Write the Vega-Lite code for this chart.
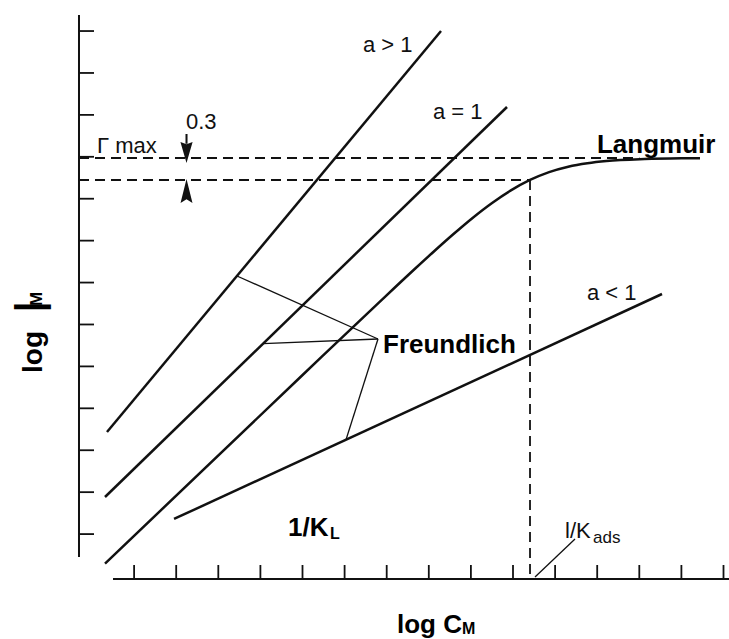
{
  "$schema": "https://vega.github.io/schema/vega-lite/v6.json",
  "width": 729,
  "height": 639,
  "autosize": {"type": "none"},
  "padding": 0,
  "background": "white",
  "config": {"view": {"stroke": null}},
  "datasets": {
    "xticks": [
      {"logC": 1}, {"logC": 2}, {"logC": 3}, {"logC": 4}, {"logC": 5},
      {"logC": 6}, {"logC": 7}, {"logC": 8}, {"logC": 9}, {"logC": 10},
      {"logC": 11}, {"logC": 12}, {"logC": 13}, {"logC": 14}, {"logC": 15}
    ],
    "yticks": [
      {"logG": 1}, {"logG": 2}, {"logG": 3}, {"logG": 4}, {"logG": 5},
      {"logG": 6}, {"logG": 7}, {"logG": 8}, {"logG": 9}, {"logG": 10},
      {"logG": 11}, {"logG": 12}, {"logG": 13}
    ],
    "segments": [
      {"name": "a>1", "kind": "thick", "x": 0.356, "y": 3.435, "x2": 8.29, "y2": 13.001},
      {"name": "a=1", "kind": "thick", "x": 0.309, "y": 1.885, "x2": 9.857, "y2": 11.188},
      {"name": "a<1", "kind": "thick", "x": 1.948, "y": 1.36, "x2": 13.539, "y2": 6.727},
      {"name": "freundlich a>1", "kind": "thin", "x": 3.444, "y": 7.157, "x2": 6.793, "y2": 5.654},
      {"name": "freundlich a=1", "kind": "thin", "x": 4.062, "y": 5.542, "x2": 6.793, "y2": 5.654},
      {"name": "freundlich a<1", "kind": "thin", "x": 6.033, "y": 3.251, "x2": 6.793, "y2": 5.654},
      {"name": "1/Kads pointer", "kind": "thin", "x": 10.523, "y": -0.024, "x2": 11.473, "y2": 0.883},
      {"name": "gamma max", "kind": "dash", "x": -0.309, "y": 9.971, "x2": 13.0, "y2": 9.971},
      {"name": "half of gamma max", "kind": "dash", "x": -0.309, "y": 9.447, "x2": 10.404, "y2": 9.447},
      {"name": "1/Kads", "kind": "dash", "x": 10.404, "y": 9.447, "x2": 10.404, "y2": -0.072},
      {"name": "y axis", "kind": "axis", "x": -0.309, "y": 0.453, "x2": -0.309, "y2": 13.383},
      {"name": "x axis", "kind": "axis", "x": 0.499, "y": -0.072, "x2": 15.2, "y2": -0.072}
    ],
    "langmuir": [
      {"x": 0.309, "y": 0.296}, {"x": 4.952, "y": 4.747}, {"x": 6.77, "y": 6.481},
      {"x": 7.678, "y": 7.335}, {"x": 8.133, "y": 7.753}, {"x": 8.587, "y": 8.158},
      {"x": 9.04, "y": 8.542}, {"x": 9.495, "y": 8.893}, {"x": 9.95, "y": 9.198},
      {"x": 10.404, "y": 9.447}, {"x": 10.857, "y": 9.635}, {"x": 11.312, "y": 9.764},
      {"x": 11.767, "y": 9.847}, {"x": 12.221, "y": 9.9}, {"x": 13.129, "y": 9.947},
      {"x": 14.038, "y": 9.964}, {"x": 14.442, "y": 9.967}
    ],
    "arrows": [
      {"dir": "down", "x": 2.245, "y": 10.198},
      {"dir": "up", "x": 2.245, "y": 9.184}
    ],
    "labels": [
      {"role": "note", "text": "a > 1", "x": 6.437, "y": 12.5},
      {"role": "note", "text": "a = 1", "x": 8.1, "y": 10.902},
      {"role": "note", "text": "a < 1", "x": 11.758, "y": 6.584},
      {"role": "note", "text": "0.3", "x": 2.233, "y": 10.663},
      {"role": "note", "text": "Γ max", "x": 0.119, "y": 10.091},
      {"role": "name", "text": "Langmuir", "x": 11.995, "y": 10.091},
      {"role": "name", "text": "Freundlich", "x": 6.912, "y": 5.32},
      {"role": "name", "text": "1/K", "x": 4.656, "y": 0.954},
      {"role": "name", "text": "log C", "x": 7.245, "y": -1.36},
      {"role": "sub", "text": "L", "x": 5.653, "y": 0.883},
      {"role": "sub", "text": "M", "x": 8.789, "y": -1.384},
      {"role": "kads", "text": "l/K", "x": 11.235, "y": 0.906},
      {"role": "kads-sub", "text": "ads", "x": 11.9, "y": 0.787}
    ],
    "ytitle": [
      {"role": "word", "text": "log", "x": -1.188, "y": 5.344},
      {"role": "bar", "text": "|", "x": -1.188, "y": 6.417},
      {"role": "sub", "text": "M", "x": -1.188, "y": 6.608}
    ]
  },
  "layer": [
    {
      "data": {"name": "segments"},
      "transform": [{"filter": "datum.kind === 'axis'"}],
      "mark": {"type": "rule", "color": "#111", "strokeWidth": 2},
      "encoding": {
        "x": {"field": "x", "type": "quantitative", "scale": {"domain": [-2.1853, 15.1306], "nice": false, "zero": false}, "axis": null},
        "y": {"field": "y", "type": "quantitative", "scale": {"domain": [-1.5029, 13.7405], "nice": false, "zero": false}, "axis": null},
        "x2": {"field": "x2"},
        "y2": {"field": "y2"}
      }
    },
    {
      "data": {"name": "xticks"},
      "mark": {"type": "rule", "color": "#111", "strokeWidth": 1.8},
      "encoding": {
        "x": {"field": "logC", "type": "quantitative"},
        "y": {"datum": -0.072, "type": "quantitative"},
        "y2": {"datum": 0.262}
      }
    },
    {
      "data": {"name": "yticks"},
      "mark": {"type": "rule", "color": "#111", "strokeWidth": 1.8},
      "encoding": {
        "y": {"field": "logG", "type": "quantitative"},
        "x": {"datum": -0.309, "type": "quantitative"},
        "x2": {"datum": 0.048}
      }
    },
    {
      "data": {"name": "segments"},
      "transform": [{"filter": "datum.kind === 'dash'"}],
      "mark": {"type": "rule", "color": "#111", "strokeWidth": 1.8, "strokeDash": [10, 6]},
      "encoding": {
        "x": {"field": "x", "type": "quantitative"},
        "y": {"field": "y", "type": "quantitative"},
        "x2": {"field": "x2"},
        "y2": {"field": "y2"}
      }
    },
    {
      "data": {"name": "segments"},
      "transform": [{"filter": "datum.kind === 'thin'"}],
      "mark": {"type": "rule", "color": "#111", "strokeWidth": 1.3},
      "encoding": {
        "x": {"field": "x", "type": "quantitative"},
        "y": {"field": "y", "type": "quantitative"},
        "x2": {"field": "x2"},
        "y2": {"field": "y2"}
      }
    },
    {
      "data": {"name": "segments"},
      "transform": [{"filter": "datum.kind === 'thick'"}],
      "mark": {"type": "rule", "color": "#111", "strokeWidth": 2.5},
      "encoding": {
        "x": {"field": "x", "type": "quantitative"},
        "y": {"field": "y", "type": "quantitative"},
        "x2": {"field": "x2"},
        "y2": {"field": "y2"}
      }
    },
    {
      "data": {"name": "langmuir"},
      "mark": {"type": "line", "color": "#111", "strokeWidth": 2.5, "interpolate": "monotone"},
      "encoding": {
        "x": {"field": "x", "type": "quantitative"},
        "y": {"field": "y", "type": "quantitative"}
      }
    },
    {
      "data": {"name": "arrows"},
      "transform": [{"filter": "datum.dir === 'down'"}],
      "mark": {"type": "point", "filled": true, "color": "#111", "opacity": 1, "size": 840,
        "shape": "M0,1 L-0.42,-0.45 L0,-0.3 L0.42,-0.45 Z M-0.07,-0.32 L-0.07,-1 L0.07,-1 L0.07,-0.32 Z"},
      "encoding": {
        "x": {"field": "x", "type": "quantitative"},
        "y": {"field": "y", "type": "quantitative"}
      }
    },
    {
      "data": {"name": "arrows"},
      "transform": [{"filter": "datum.dir === 'up'"}],
      "mark": {"type": "point", "filled": true, "color": "#111", "opacity": 1, "size": 570,
        "shape": "M0,-1 L-0.5,1 L0,0.7 L0.5,1 Z"},
      "encoding": {
        "x": {"field": "x", "type": "quantitative"},
        "y": {"field": "y", "type": "quantitative"}
      }
    },
    {
      "data": {"name": "labels"},
      "transform": [{"filter": "datum.role === 'note'"}],
      "mark": {"type": "text", "align": "left", "baseline": "alphabetic", "font": "Liberation Sans", "fontSize": 22, "color": "#111"},
      "encoding": {
        "x": {"field": "x", "type": "quantitative"},
        "y": {"field": "y", "type": "quantitative"},
        "text": {"field": "text"}
      }
    },
    {
      "data": {"name": "labels"},
      "transform": [{"filter": "datum.role === 'name'"}],
      "mark": {"type": "text", "align": "left", "baseline": "alphabetic", "font": "Liberation Sans", "fontWeight": "bold", "fontSize": 26, "color": "#000"},
      "encoding": {
        "x": {"field": "x", "type": "quantitative"},
        "y": {"field": "y", "type": "quantitative"},
        "text": {"field": "text"}
      }
    },
    {
      "data": {"name": "labels"},
      "transform": [{"filter": "datum.role === 'sub'"}],
      "mark": {"type": "text", "align": "left", "baseline": "alphabetic", "font": "Liberation Sans", "fontWeight": "bold", "fontSize": 16, "color": "#000"},
      "encoding": {
        "x": {"field": "x", "type": "quantitative"},
        "y": {"field": "y", "type": "quantitative"},
        "text": {"field": "text"}
      }
    },
    {
      "data": {"name": "labels"},
      "transform": [{"filter": "datum.role === 'kads'"}],
      "mark": {"type": "text", "align": "left", "baseline": "alphabetic", "font": "Liberation Sans", "fontSize": 22, "color": "#111"},
      "encoding": {
        "x": {"field": "x", "type": "quantitative"},
        "y": {"field": "y", "type": "quantitative"},
        "text": {"field": "text"}
      }
    },
    {
      "data": {"name": "labels"},
      "transform": [{"filter": "datum.role === 'kads-sub'"}],
      "mark": {"type": "text", "align": "left", "baseline": "alphabetic", "font": "Liberation Sans", "fontSize": 17, "color": "#111"},
      "encoding": {
        "x": {"field": "x", "type": "quantitative"},
        "y": {"field": "y", "type": "quantitative"},
        "text": {"field": "text"}
      }
    },
    {
      "data": {"name": "ytitle"},
      "transform": [{"filter": "datum.role === 'word'"}],
      "mark": {"type": "text", "align": "center", "baseline": "alphabetic", "angle": -90, "font": "Liberation Sans", "fontWeight": "bold", "fontSize": 28, "color": "#000"},
      "encoding": {
        "x": {"field": "x", "type": "quantitative"},
        "y": {"field": "y", "type": "quantitative"},
        "text": {"field": "text"}
      }
    },
    {
      "data": {"name": "ytitle"},
      "transform": [{"filter": "datum.role === 'bar'"}],
      "mark": {"type": "text", "align": "center", "baseline": "alphabetic", "angle": -90, "font": "Liberation Sans", "fontWeight": "bold", "fontSize": 38, "color": "#000"},
      "encoding": {
        "x": {"field": "x", "type": "quantitative"},
        "y": {"field": "y", "type": "quantitative"},
        "text": {"field": "text"}
      }
    },
    {
      "data": {"name": "ytitle"},
      "transform": [{"filter": "datum.role === 'sub'"}],
      "mark": {"type": "text", "align": "center", "baseline": "alphabetic", "angle": -90, "font": "Liberation Sans", "fontWeight": "bold", "fontSize": 17, "color": "#000"},
      "encoding": {
        "x": {"field": "x", "type": "quantitative"},
        "y": {"field": "y", "type": "quantitative"},
        "text": {"field": "text"}
      }
    }
  ]
}
